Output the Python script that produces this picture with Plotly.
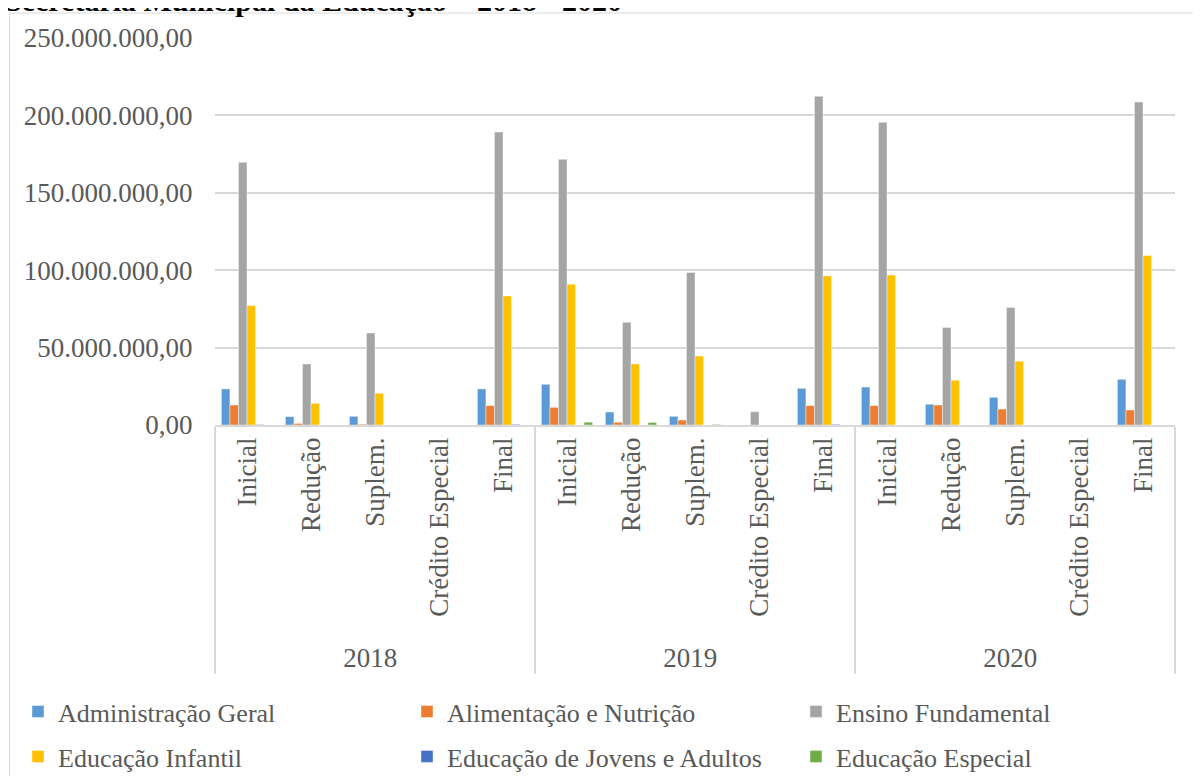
import plotly.graph_objects as go

years = ["2018", "2019", "2020"]
stages = ["Inicial", "Redução", "Suplem.", "Crédito Especial", "Final"]

series_names = [
    "Administração Geral",
    "Alimentação e Nutrição",
    "Ensino Fundamental",
    "Educação Infantil",
    "Educação de Jovens e Adultos",
    "Educação Especial",
]

administracao = [23300000, 5400000, 5600000, 0, 23300000,
                 26300000, 8400000, 5600000, 0, 23700000,
                 24500000, 13400000, 17900000, 0, 29500000]
alimentacao = [12900000, 1000000, 500000, 0, 12500000,
               11400000, 1800000, 3200000, 0, 12500000,
               12500000, 12900000, 10300000, 0, 9700000]
ensino_fund = [169700000, 39400000, 59400000, 0, 189200000,
               171600000, 66300000, 98500000, 8600000, 212300000,
               195500000, 63000000, 75900000, 0, 208600000]
educ_infantil = [77200000, 14000000, 20500000, 0, 83300000,
                 91000000, 39400000, 44500000, 0, 96300000,
                 96900000, 28900000, 41200000, 0, 109500000]
educ_eja = [300000, 0, 0, 0, 400000,
            0, 0, 0, 0, 400000,
            0, 0, 0, 0, 0]
educ_especial = [0, 0, 0, 0, 0,
                 1800000, 1600000, 400000, 0, 0,
                 0, 0, 0, 0, 0]

y_ticks = [0, 50000000, 100000000, 150000000, 200000000, 250000000]

colors = ["#5B9BD5", "#ED7D31", "#A5A5A5", "#FFC000", "#4472C4", "#70AD47"]
all_series = [administracao, alimentacao, ensino_fund, educ_infantil, educ_eja, educ_especial]

x_outer = [y for y in years for s in stages]
x_inner = [s for y in years for s in stages]

# page has an 8px body margin; work in page pixels and convert
OFF = 8
W, H = 1201 - OFF, 776 - OFF
PL, PR, PT, PB = 215, 1175, 37.5, 425          # plot area in page pixels
L, T = PL - OFF, PT - OFF
R = W - (PR - OFF)
B = H - (PB - OFF)
ph = PB - PT
pw = PR - PL

def py(p):  # page pixel y -> paper
    return (PB - p) / ph

def px(p):  # page pixel x -> paper
    return (p - PL) / pw

fig = go.Figure()
for i, (name, vals, col) in enumerate(zip(series_names, all_series, colors)):
    fig.add_trace(go.Bar(
        x=[x_outer, x_inner], y=vals, name=name,
        marker=dict(color=col, line=dict(color="rgba(255,255,255,0.5)", width=0.8)),
        legend="legend" if i < 3 else "legend2",
    ))

serif = "Liberation Serif"
grey_txt = "#595959"

def legend_cfg(ypos):
    return dict(
        orientation="h", x=px(18), xanchor="left", y=py(ypos), yanchor="middle",
        entrywidth=344, entrywidthmode="pixels",
        font=dict(family=serif, size=26, color=grey_txt),
        bgcolor="rgba(0,0,0,0)", itemclick=False,
    )

fig.update_layout(
    width=W, height=H,
    margin=dict(l=L, r=R, t=T, b=B, autoexpand=False),
    paper_bgcolor="white", plot_bgcolor="white",
    separators=",.",
    barmode="group", bargap=0.2, bargroupgap=0.0,
    font=dict(family=serif, size=24, color=grey_txt),
    xaxis=dict(
        type="multicategory",
        showline=True, linecolor="#D9D9D9", linewidth=1.5,
        showdividers=True, dividercolor="#D9D9D9", dividerwidth=1.5,
        tickangle=-90,
        tickfont=dict(family=serif, size=27, color=grey_txt),
        showgrid=False,
    ),
    yaxis=dict(
        range=[0, 250000000], tickvals=y_ticks,
        tickformat=",.2f", showgrid=True, gridcolor="#D9D9D9", gridwidth=1.5,
        zeroline=False, showline=False,
        tickfont=dict(family=serif, size=27, color=grey_txt),
        ticks="outside", ticklen=16, tickcolor="rgba(0,0,0,0)",
    ),
    legend=legend_cfg(712),
    legend2=legend_cfg(757),
    shapes=[dict(
        type="rect", xref="paper", yref="paper",
        x0=px(9.5), x1=px(1240),
        y0=py(800), y1=py(12.5),
        line=dict(color="#D9D9D9", width=1), fillcolor="rgba(0,0,0,0)", layer="below",
    )],
    annotations=[dict(
        text="<b>Secretaria Municipal da Educação – 2018 - 2020</b>",
        xref="paper", yref="paper", x=px(3), xanchor="left",
        y=py(18), yanchor="bottom", showarrow=False,
        font=dict(family=serif, size=30, color="#000000"),
    )],
)

fig.write_html("out.html")
